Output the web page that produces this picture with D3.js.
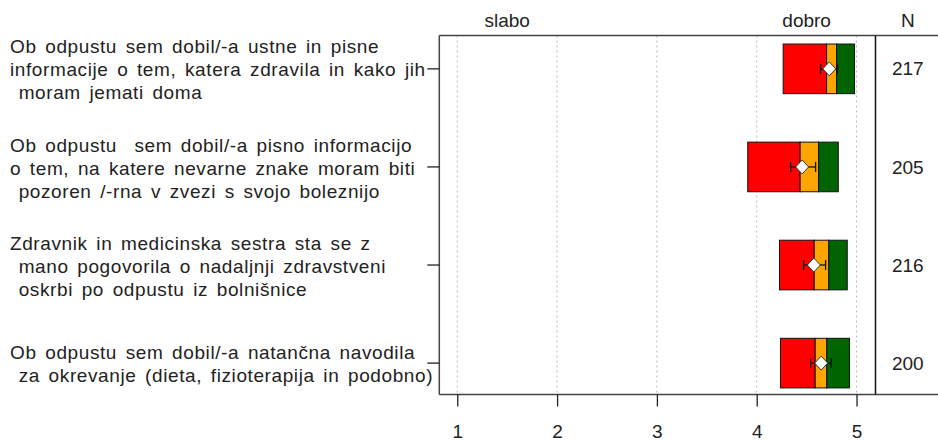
<!DOCTYPE html>
<html>
<head>
<meta charset="utf-8">
<script src="https://cdn.jsdelivr.net/npm/d3@7"></script>
<style>
  html, body { margin: 0; padding: 0; background: #fff; }
  svg { display: block; }
  text { font-family: Arial, "Liberation Sans", sans-serif; fill: #222; }
</style>
</head>
<body>
<svg id="chart" width="938" height="441"></svg>
<script>
// Survey items, one row each (lines of the multi-line label)
const categories = [
  ["Ob odpustu sem dobil/-a ustne in pisne",
   "informacije o tem, katera zdravila in kako jih",
   " moram jemati doma"],
  ["Ob odpustu  sem dobil/-a pisno informacijo",
   "o tem, na katere nevarne znake moram biti",
   " pozoren /-rna v zvezi s svojo boleznijo"],
  ["Zdravnik in medicinska sestra sta se z",
   " mano pogovorila o nadaljnji zdravstveni",
   " oskrbi po odpustu iz bolnišnice"],
  ["Ob odpustu sem dobil/-a natančna navodila",
   " za okrevanje (dieta, fizioterapija in podobno)"]
];

// Segment boundaries on the 1–5 scale
const segStart  = [4.265, 3.91, 4.228, 4.238];
const redEnd    = [4.70, 4.435, 4.576, 4.586];
const orangeEnd = [4.80, 4.62, 4.722, 4.702];
const greenEnd  = [4.98, 4.817, 4.907, 4.93];

// Mean with its confidence interval
const means  = [4.727, 4.455, 4.572, 4.646];
const ciLow  = [4.64, 4.34, 4.47, 4.54];
const ciHigh = [4.81, 4.59, 4.69, 4.746];

const nValues = [217, 205, 216, 200];
const tickValues = [1, 2, 3, 4, 5];
const endLabels = [{ v: 1.5, t: "slabo" }, { v: 4.5, t: "dobro" }];

const svg = d3.select("#chart");
const fontSize = 19;

const x = d3.scaleLinear().domain([0.82, 5.19]).range([439.3, 875.5]);
const y = d3.scaleLinear().domain([-0.34, 3.32]).range([35.5, 394.5]);
const [xLeft, xRight] = x.range();
const [yTop, yBottom] = y.range();
const nColumnRight = 938;
const barHalf = 0.253;

// dotted grid lines
svg.append("g").selectAll("line").data(tickValues).join("line")
  .attr("x1", d => x(d)).attr("x2", d => x(d))
  .attr("y1", yTop).attr("y2", yBottom)
  .attr("stroke", "#bbb").attr("stroke-width", 1)
  .attr("stroke-dasharray", "2,3");

// stacked segments
const segs = [];
categories.forEach((c, i) => {
  segs.push({ i, a: segStart[i], b: redEnd[i], col: "#ff0000" });
  segs.push({ i, a: redEnd[i], b: orangeEnd[i], col: "#ffa500" });
  segs.push({ i, a: orangeEnd[i], b: greenEnd[i], col: "#006400" });
});
svg.append("g").selectAll("rect").data(segs).join("rect")
  .attr("x", d => x(d.a))
  .attr("width", d => x(d.b) - x(d.a))
  .attr("y", d => y(d.i - barHalf))
  .attr("height", d => y(d.i + barHalf) - y(d.i - barHalf))
  .attr("fill", d => d.col)
  .attr("stroke", "#111").attr("stroke-width", 1);

// confidence intervals
const ci = svg.append("g").attr("stroke", "#111").attr("stroke-width", 1.3);
categories.forEach((c, i) => {
  ci.append("line").attr("x1", x(ciLow[i])).attr("x2", x(ciHigh[i]))
    .attr("y1", y(i)).attr("y2", y(i));
  [ciLow[i], ciHigh[i]].forEach(v => {
    ci.append("line").attr("x1", x(v)).attr("x2", x(v))
      .attr("y1", y(i) - 5).attr("y2", y(i) + 5);
  });
});

// mean diamonds
svg.append("g").selectAll("path").data(means).join("path")
  .attr("d", (m, i) => {
    const cx = x(m), cy = y(i), w = 6.5, h = 7;
    return `M${cx},${cy - h}L${cx + w},${cy}L${cx},${cy + h}L${cx - w},${cy}Z`;
  })
  .attr("fill", "#fff").attr("stroke", "#333").attr("stroke-width", 1);

// frame
const frame = svg.append("g").attr("fill", "none");
frame.append("line").attr("x1", xLeft).attr("x2", nColumnRight)
  .attr("y1", yTop).attr("y2", yTop).attr("stroke", "#444").attr("stroke-width", 1.5);
frame.append("line").attr("x1", xLeft).attr("x2", nColumnRight)
  .attr("y1", yBottom).attr("y2", yBottom).attr("stroke", "#444").attr("stroke-width", 1.5);
frame.append("line").attr("x1", xLeft).attr("x2", xLeft)
  .attr("y1", yTop).attr("y2", yBottom).attr("stroke", "#444").attr("stroke-width", 1.5);
frame.append("line").attr("x1", xRight).attr("x2", xRight)
  .attr("y1", yTop).attr("y2", yBottom).attr("stroke", "#111").attr("stroke-width", 1.5);

// bottom axis
const xAxis = svg.append("g").attr("transform", `translate(0,${yBottom})`)
  .call(d3.axisBottom(x).tickValues(tickValues).tickSize(12).tickPadding(18)
    .tickFormat(d3.format("d")));
xAxis.select(".domain").remove();
xAxis.selectAll(".tick line").attr("stroke", "#222").attr("stroke-width", 1.3);
xAxis.selectAll(".tick text").attr("font-size", fontSize)
  .attr("font-family", "Arial, 'Liberation Sans', sans-serif").attr("fill", "#222");

// left ticks at each row
svg.append("g").selectAll("line").data(categories).join("line")
  .attr("x1", xLeft - 12).attr("x2", xLeft)
  .attr("y1", (d, i) => y(i)).attr("y2", (d, i) => y(i))
  .attr("stroke", "#222").attr("stroke-width", 1.3);

// row labels
const lineH = 23;
const labels = svg.append("g");
categories.forEach((lines, i) => {
  const t = labels.append("text")
    .attr("font-size", fontSize)
    .attr("xml:space", "preserve")
    .style("white-space", "pre")
    .attr("letter-spacing", 0.6)
    .attr("word-spacing", 2.8);
  const off = (lines.length - 1) / 2;
  lines.forEach((ln, k) => {
    t.append("tspan").attr("x", 10)
      .attr("y", y(i) + (k - off) * lineH + 1)
      .attr("dy", "0.35em")
      .text(ln);
  });
});

// top labels
svg.append("g").selectAll("text").data(endLabels).join("text")
  .attr("x", d => x(d.v)).attr("y", 20).attr("dy", "0.35em")
  .attr("text-anchor", "middle").attr("font-size", fontSize)
  .text(d => d.t);

const nX = (xRight + nColumnRight) / 2 + 1;
svg.append("text").attr("x", nX).attr("y", 20).attr("dy", "0.35em")
  .attr("text-anchor", "middle").attr("font-size", fontSize).text("N");

svg.append("g").selectAll("text").data(nValues).join("text")
  .attr("x", nX).attr("y", (d, i) => y(i)).attr("dy", "0.35em")
  .attr("text-anchor", "middle").attr("font-size", fontSize)
  .text(d => d);
</script>
</body>
</html>
